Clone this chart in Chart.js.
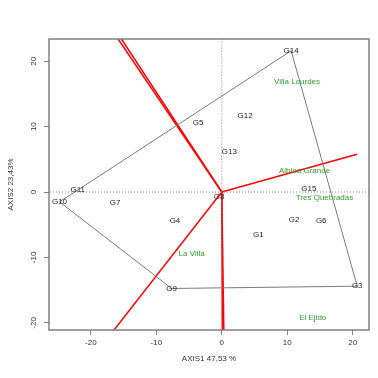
<!DOCTYPE html>
<html><head><meta charset="utf-8">
<script src="https://cdn.jsdelivr.net/npm/chart.js@4"></script>
<style>html,body{margin:0;padding:0;background:#fff}canvas{display:block}</style>
</head><body>
<canvas id="c" width="378" height="378"></canvas>
<script>
const genotypes = ['G1','G2','G3','G4','G5','G6','G7','G8','G9','G10','G11','G12','G13','G14','G15'];
const genoX = [5.6, 11.07, 20.7, -7.15, -3.6, 15.2, -16.3, -0.4, -7.65, -24.8, -22.0, 3.57, 1.17, 10.6, 13.3];
const genoY = [-6.6, -4.3, -14.4, -4.4, 10.6, -4.4, -1.7, -0.8, -14.75, -1.5, 0.3, 11.6, 6.2, 21.6, 0.46];
const hullOrder = ['G14','G3','G9','G10','G11','G14'];
const environments = ['Villa Lourdes','Albina Grande','Tres Quebradas','La Villa','El Ejido'];
const envX = [11.5, 12.65, 15.7, -4.6, 13.9];
const envY = [16.9, 3.2, -0.87, -9.4, -19.3];
const vectorEndX = [-17.4, -16.84, 20.67, -18.1, 0.1, 0.35];
const vectorEndY = [25.7, 25.7, 5.77, -23.2, -23.2, -23.2];
const xTicks = [-20, -10, 0, 10, 20];
const yTicks = [-20, -10, 0, 10, 20];
const xRange = [-26.4, 22.5];
const yRange = [-21.1, 23.4];
const xTitle = 'AXIS1 47,53 %';
const yTitle = 'AXIS2 23,43%';

const FONT = 'Liberation Sans, Arial, sans-serif';
const datasets = [];
datasets.push({label:'h0', data:[{x:-40,y:0},{x:40,y:0}], borderColor:'#888', borderWidth:1, borderDash:[1,2]});
datasets.push({label:'v0', data:[{x:0,y:-40},{x:0,y:40}], borderColor:'#888', borderWidth:1, borderDash:[1,2]});
datasets.push({label:'hull', data: hullOrder.map(n => { const i = genotypes.indexOf(n); return {x:genoX[i], y:genoY[i]}; }), borderColor:'#7a7a7a', borderWidth:1});
vectorEndX.forEach((vx,i) => datasets.push({label:'vec'+i, data:[{x:0,y:0},{x:vx,y:vectorEndY[i]}], borderColor:'#ff0000', borderWidth:1.5}));
datasets.push({label:'genotypes', data: genotypes.map((g,i)=>({x:genoX[i], y:genoY[i]})), showLine:false, names: genotypes, textColor:'#222'});
datasets.push({label:'environments', data: environments.map((e,i)=>({x:envX[i], y:envY[i]})), showLine:false, names: environments, textColor:'#2e9e2e'});

const boxPlugin = {
  id:'box',
  afterDatasetsDraw(chart){
    const {ctx, chartArea:a} = chart;
    ctx.save();
    ctx.strokeStyle = '#808080'; ctx.lineWidth = 1.5;
    ctx.strokeRect(a.left, a.top, a.right-a.left, a.bottom-a.top);
    ctx.restore();
  }
};
const labelPlugin = {
  id:'labels',
  afterDatasetsDraw(chart){
    const ctx = chart.ctx;
    ctx.save();
    ctx.font = '8px ' + FONT;
    ctx.textAlign = 'center'; ctx.textBaseline = 'middle';
    chart.data.datasets.forEach((ds, di) => {
      if (!ds.names) return;
      const meta = chart.getDatasetMeta(di);
      ctx.fillStyle = ds.textColor;
      meta.data.forEach((el, i) => ctx.fillText(ds.names[i], el.x, el.y));
    });
    ctx.restore();
  }
};

new Chart(document.getElementById('c'), {
  type:'scatter',
  data:{datasets},
  options:{
    responsive:false, animation:false, showLine:true,
    elements:{point:{radius:0, hoverRadius:0}, line:{tension:0}},
    layout:{padding:{top:39, right:9, left:0, bottom:0}},
    plugins:{legend:{display:false}, tooltip:{enabled:false}},
    scales:{
      x:{type:'linear', min:xRange[0], max:xRange[1],
        afterBuildTicks: s => { s.ticks = xTicks.map(v=>({value:v})); },
        afterFit: s => { s.height = 48; },
        grid:{drawOnChartArea:false, drawTicks:true, tickLength:5, color:'#808080'},
        border:{display:false},
        ticks:{font:{size:8, family:FONT}, color:'#333', padding:3, maxRotation:0, autoSkip:false},
        title:{display:true, text:xTitle, font:{size:8, family:FONT}, color:'#333', padding:{top:0,bottom:14}}
      },
      y:{type:'linear', min:yRange[0], max:yRange[1],
        afterBuildTicks: s => { s.ticks = yTicks.map(v=>({value:v})); },
        afterFit: s => { s.width = 49; },
        grid:{drawOnChartArea:false, drawTicks:true, tickLength:5, color:'#808080'},
        border:{display:false},
        ticks:{font:{size:8, family:FONT}, color:'#333', padding:4, minRotation:90, maxRotation:90, crossAlign:'center', autoSkip:false},
        title:{display:true, text:yTitle, font:{size:8, family:FONT}, color:'#333', padding:{top:6,bottom:0}}
      }
    }
  },
  plugins:[boxPlugin, labelPlugin]
});
</script>
</body></html>
